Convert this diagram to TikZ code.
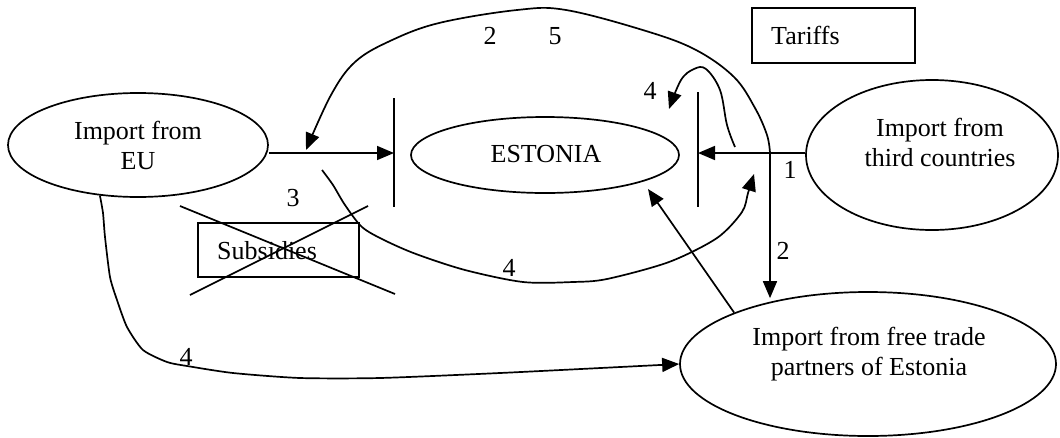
\documentclass[tikz,border=0pt]{standalone}
\usepackage{fontspec}
\setmainfont{Liberation Serif}
\usetikzlibrary{shapes.geometric,arrows.meta}
\begin{document}
\begin{tikzpicture}[x=1pt,y=-1pt,
  every node/.style={font=\fontsize{26}{30}\selectfont},
  ell/.style={draw,ellipse,line width=1.7pt,inner sep=0pt},
  boxn/.style={draw,rectangle,line width=1.7pt,inner sep=0pt},
  ln/.style={line width=1.7pt},
  arr/.style={line width=1.7pt,-{Triangle[length=17pt,width=14pt]}},
  lbl/.style={inner sep=0pt,anchor=base}]
\useasboundingbox (0,0) rectangle (1060,437);
% nodes
\node[ell,minimum width=260pt,minimum height=104pt,align=center] (eu) at (138,145) {Import from\\EU};
\node[ell,minimum width=268pt,minimum height=76pt] (est) at (545,155) {};
\node[inner sep=0pt] (esttxt) at (546,154) {ESTONIA};
\node[ell,minimum width=252pt,minimum height=150pt] (third) at (932,155) {};
\node[inner sep=0pt,align=center] (thirdtxt) at (940,142) {Import from\\third countries};
\node[ell,minimum width=376pt,minimum height=144pt] (ft) at (868,364) {};
\node[inner sep=0pt,align=center] (fttxt) at (869,354) {Import from free trade\\partners of Estonia};
\node[boxn,minimum width=163pt,minimum height=55pt] (tar) at (833.5,35.5) {};
\node[lbl,anchor=base west] (tartxt) at (771,44) {Tariffs};
\node[boxn,minimum width=161pt,minimum height=54pt] (sub) at (278.5,250) {};
\node[lbl,anchor=base west] (subtxt) at (217,259) {Subsidies};
% barriers
\coordinate (lbt) at (394,98);  \coordinate (lbb) at (394,207);
\coordinate (rbt) at (698,92);  \coordinate (rbb) at (698,207);
\draw[ln] (lbt) -- (lbb);
\draw[ln] (rbt) -- (rbb);
% cross over subsidies
\coordinate (c1a) at (180,206); \coordinate (c1b) at (395,294);
\coordinate (c2a) at (190,295); \coordinate (c2b) at (368,206);
\draw[ln] (c1a) -- (c1b);
\draw[ln] (c2a) -- (c2b);
% main flows
\coordinate (lbm) at (394,153);
\coordinate (rbm) at (698,153);
\coordinate (j1) at (770,153);
\draw[arr] (eu.east |- lbm) -- (lbm);
\draw[arr] (third.west |- rbm) -- (rbm);
\draw[arr] (j1) -- (j1 |- ft.north) -- ++(0,7);
\node[lbl] (n1) at (790,178) {1};
\node[lbl] (n2a) at (783,259) {2};
% free trade -> Estonia
\draw[arr] (ft.{159}) -- (648,189);
% big arc 2 5
\draw[arr] plot[smooth,tension=0.6] coordinates {(770,153) (767,135) (755,108) (734,77) (696,50) (646,31) (566,10) (517,10) (439,23) (390,41) (355,62) (331,95) (306,150)};
\node[lbl] (n2b) at (490,44) {2};
\node[lbl] (n5) at (555,44) {5};
% small loop 4
\draw[arr] plot[smooth,tension=0.6] coordinates {(735,147) (727,125) (720,90) (706,69) (694,69) (681,80) (669,109)};
\node[lbl] (n4a) at (650,99) {4};
% lower curve 3 / 4
\draw[arr] plot[smooth,tension=0.5] coordinates {(322,170) (333,185) (345,205) (362,227) (384,240) (416,254) (465,270) (523,282) (573,282) (607,279) (669,262) (717,238) (742,212) (748,193) (754,174)};
\node[lbl] (n3) at (293,206) {3};
\node[lbl] (n4b) at (509,276) {4};
% bottom curve EU -> free trade
\draw[arr] plot[smooth,tension=0.4] coordinates {(eu.{-127}) (103,213) (105,237) (110,277) (117,300) (127,327) (143,350) (167,362) (187,366) (233,373) (300,378) (380,378) (500,373) (640,366) (ft.west)};
\node[lbl] (n4c) at (186,365) {4};
\end{tikzpicture}
\end{document}
